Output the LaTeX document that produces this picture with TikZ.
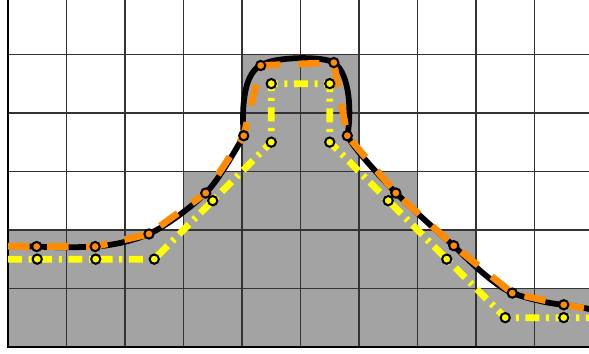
\documentclass[tikz,border=0pt]{standalone}
\definecolor{cellgray}{RGB}{163,163,163}
\definecolor{dorange}{RGB}{255,140,0}
\definecolor{pyellow}{RGB}{255,255,0}
\begin{document}
\begin{tikzpicture}[x=1cm,y=1cm,
  gridline/.style={line width=0.7pt, black!80},
  frameline/.style={line width=1.2pt, black},
  blackcurve/.style={line width=2.8pt, black},
  orangeline/.style={line width=3.3pt, dorange, dash pattern=on 10.5pt off 8.5pt},
  yellowline/.style={line width=3.3pt, pyellow, dash pattern=on 6.8pt off 3.2pt on 1.5pt off 3.2pt},
  odot/.style={circle, draw=black, fill=dorange, line width=1pt, minimum size=4.5pt, inner sep=0pt},
  ydot/.style={circle, draw=black, fill=pyellow, line width=1pt, minimum size=4.5pt, inner sep=0pt}
]
\useasboundingbox (-0.137,-0.12) rectangle (9.932,5.93);
\begin{scope}
\clip (-0.137,-0.12) rectangle (9.932,5.93);
\fill[cellgray] (0,0) -- (0,2) -- (3,2) -- (3,3) -- (4,3) -- (4,5) -- (6,5) -- (6,3) -- (7,3) -- (7,2) -- (8,2) -- (8,1) -- (10,1) -- (10,0) -- cycle;
\draw[gridline] (0,0) grid (10,6);
\draw[frameline] (0,6) -- (0,0) -- (10,0);
% orange points
\coordinate (ol) at (0,1.72);
\coordinate (o1) at (0.49,1.715);
\coordinate (o2) at (1.49,1.715);
\coordinate (o3) at (2.41,1.93);
\coordinate (o4) at (3.38,2.63);
\coordinate (o5) at (4.03,3.61);
\coordinate (o6) at (4.32,4.81);
\coordinate (o7) at (5.57,4.86);
\coordinate (o8) at (5.80,3.61);
\coordinate (o9) at (6.63,2.63);
\coordinate (o10) at (7.62,1.73);
\coordinate (o11) at (8.62,0.92);
\coordinate (o12) at (9.50,0.72);
\coordinate (or) at (10.1,0.62);
% yellow points
\coordinate (yl) at (0,1.5);
\coordinate (y1) at (0.5,1.5);
\coordinate (y2) at (1.5,1.5);
\coordinate (y3) at (2.5,1.5);
\coordinate (y4) at (3.5,2.5);
\coordinate (y5) at (4.5,3.5);
\coordinate (y6) at (4.5,4.5);
\coordinate (y7) at (5.5,4.5);
\coordinate (y8) at (5.5,3.5);
\coordinate (y9) at (6.5,2.5);
\coordinate (y10) at (7.5,1.5);
\coordinate (y11) at (8.5,0.5);
\coordinate (y12) at (9.5,0.5);
\coordinate (yr) at (10.1,0.5);
\draw[blackcurve] (ol) .. controls (0.2,1.72) and (0.35,1.715) .. (o1)
  .. controls (0.8,1.70) and (1.2,1.70) .. (o2)
  .. controls (1.8,1.735) and (2.15,1.82) .. (o3)
  .. controls (2.71,2.07) and (3.16,2.41) .. (o4)
  .. controls (3.6,2.85) and (3.88,3.35) .. (o5)
  .. controls (3.98,4.25) and (4.08,4.70) .. (o6)
  .. controls (4.55,4.97) and (5.40,4.97) .. (o7)
  .. controls (5.86,4.66) and (5.87,3.95) .. (o8)
  .. controls (5.95,3.34) and (6.38,2.90) .. (o9)
  .. controls (6.96,2.32) and (7.29,2.01) .. (o10)
  .. controls (7.92,1.43) and (8.32,1.05) .. (o11)
  .. controls (8.90,0.82) and (9.25,0.74) .. (o12)
  .. controls (9.75,0.69) and (9.95,0.64) .. (or);
\draw[orangeline] (ol) -- (o1) -- (o2) -- (o3) -- (o4) -- (o5) -- (o6) -- (o7) -- (o8) -- (o9) -- (o10) -- (o11) -- (o12) -- (or);
\draw[yellowline] (yl) -- (y1) -- (y2) -- (y3) -- (y4) -- (y5) -- (y6) -- (y7) -- (y8) -- (y9) -- (y10) -- (y11) -- (y12) -- (yr);
\foreach \i in {1,...,12} {
  \node[odot] (od\i) at (o\i) {};
  \node[ydot] (yd\i) at (y\i) {};
}
\end{scope}
\end{tikzpicture}
\end{document}
